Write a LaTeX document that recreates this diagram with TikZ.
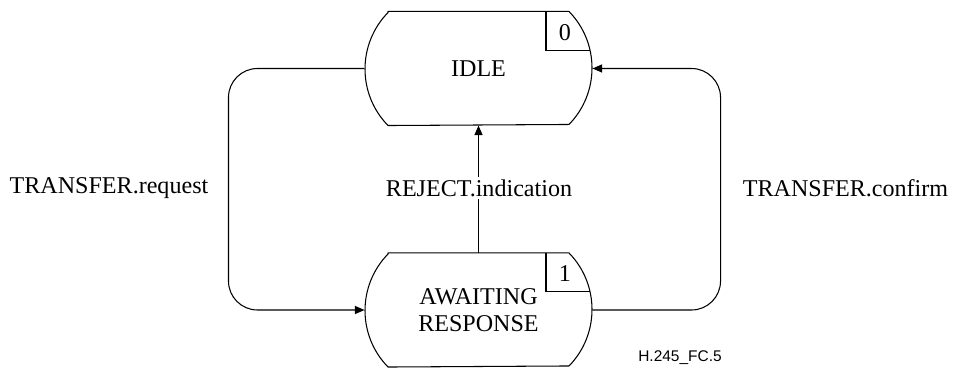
\documentclass[tikz,border=0pt]{standalone}
\usepackage{fontspec}
\setmainfont{Liberation Serif}
\setsansfont{Liberation Sans}
\usetikzlibrary{arrows.meta}

\begin{document}
\begin{tikzpicture}[every node/.style={inner sep=0pt, font=\fontsize{13.7}{15.5}\selectfont},
	every path/.style={draw=black, line width=0.6pt},
	state/.style={rectangle, minimum width=4.54cm, minimum height=2.26cm, align=center},
	outline/.style={line join=round},
	arr/.style={-{Triangle[length=0.19cm, width=0.16cm]}, rounded corners=0.58cm}]
			\path[draw=none, use as bounding box] (0,0) rectangle (19.06,7.42);
			\node[state] (idle) at (9.57,6.05){IDLE};
			\node[state] (await) at (9.57,1.22){AWAITING\\RESPONSE};
			
			\draw[outline] ([xshift=-1.81cm]idle.north) -- ([xshift=1.81cm]idle.north) arc[start angle=44.3, end angle=-44.3, radius=1.618cm] -- ([xshift=-1.81cm]idle.south) arc[start angle=224.3, end angle=135.7, radius=1.618cm] -- cycle;
			\draw ([xshift=1.35cm]idle.north) -- ++(0,-0.78) -- ++(0.882,0);
			\node (n0) at ([xshift=1.73cm, yshift=-0.42cm]idle.north){0};
			
			\draw[outline] ([xshift=-1.81cm]await.north) -- ([xshift=1.81cm]await.north) arc[start angle=44.3, end angle=-44.3, radius=1.618cm] -- ([xshift=-1.81cm]await.south) arc[start angle=224.3, end angle=135.7, radius=1.618cm] -- cycle;
			\draw ([xshift=1.35cm]await.north) -- ++(0,-0.78) -- ++(0.882,0);
			\node (n1) at ([xshift=1.73cm, yshift=-0.42cm]await.north){1};
			
			\path[arr] (idle.west) -- ++(-2.72,0) |- (await.west);
			\path[arr] (await.east) -- ++(2.56,0) |- (idle.east);
			\path[arr] (await.north) -- (idle.south);
			
			\node (text1) at (2.18,3.66){TRANSFER.request};
			\node[fill=white, inner xsep=0pt, inner ysep=1.5pt] (text2) at (9.58,3.66){REJECT.indication};
			\node (text3) at (16.91,3.66){TRANSFER.confirm};
			\node[font=\sffamily\fontsize{8.8}{10}\selectfont] (fig) at (13.6,0.26){H.245\_FC.5};
			\end{tikzpicture}
\end{document}
